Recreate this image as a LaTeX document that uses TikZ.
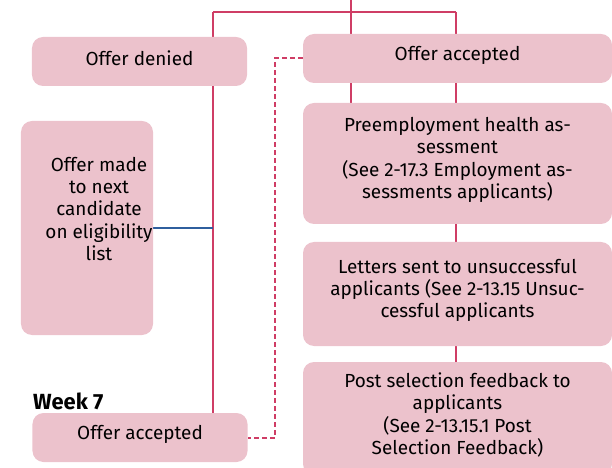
\documentclass[tikz,border=0pt]{standalone}
\usepackage{fontspec}
\setmainfont{Fira Sans}
\usetikzlibrary{backgrounds}
\definecolor{boxpink}{HTML}{ECC2CC}
\definecolor{linered}{HTML}{CF3D65}
\definecolor{lineblue}{HTML}{2F5F9E}
\begin{document}
\begin{tikzpicture}[x=1bp,y=-1bp,
  card/.style={fill=boxpink, rounded corners=11bp, inner sep=0pt},
  cardtext/.style={inner sep=0pt, align=center, yshift=3.5bp,
    font=\fontsize{19}{22.5}\selectfont},
  link/.style={draw=linered, line width=1.2bp},
  sidelink/.style={draw=lineblue, line width=1.2bp},
  dashlink/.style={draw=linered, line width=1.5bp, dash pattern=on 5bp off 3bp}]
\useasboundingbox (0,0) rectangle (612,468);

% process boxes
\node[card, minimum width=215bp, minimum height=49bp] (denied) at (139.5,61.5) {};
\node[card, minimum width=309bp, minimum height=49bp] (acctop) at (457.5,58.5) {};
\node[card, minimum width=132bp, minimum height=214bp] (made) at (87,228) {};
\node[card, minimum width=309bp, minimum height=121bp] (pre) at (457.5,163.5) {};
\node[card, minimum width=309bp, minimum height=104bp] (let) at (457.5,294) {};
\node[card, minimum width=309bp, minimum height=113bp] (post) at (457.5,418.5) {};
\node[card, minimum width=215bp, minimum height=49bp] (acc7) at (140,437.5) {};

% box texts
\node[cardtext] (deniedtext) at (denied) {Offer denied};
\node[cardtext] (acctoptext) at (acctop) {Offer accepted};
\node[cardtext, yshift=-3.5bp] (madetext) at (99,209)
  {Offer made\\to next\\candidate\\on eligibility\\list};
\node[cardtext] (pretext) at (pre)
  {Preemployment health as-\\sessment\\(See 2-17.3 Employment as-\\sessments applicants)};
\node[cardtext] (lettext) at (let)
  {Letters sent to unsuccessful\\applicants (See 2-13.15 Unsuc-\\cessful applicants};
\node[cardtext] (posttext) at (post)
  {Post selection feedback to\\applicants\\(See 2-13.15.1 Post\\Selection Feedback)};
\node[cardtext] (acc7text) at (acc7) {Offer accepted};
\node[anchor=base west, inner sep=0pt, font=\bfseries\fontsize{22}{26}\selectfont] (week) at (33,409) {Week 7};

% connectors, drawn behind the boxes
\coordinate (top) at (351,0);
\coordinate (barl) at (213,12);
\coordinate (barr) at (456,12);
\coordinate (trunk) at (213,228);
\coordinate (bendtop) at (275,58);
\coordinate (bendbot) at (275,438);
\begin{scope}[on background layer]
  \draw[link] (top) -- (pre.north -| top);
  \draw[link] (barl) -- (barr);
  \draw[link] (barl) -- (acc7.north -| barl);
  \draw[link] (barr) -- (post.north -| barr);
  \draw[sidelink] (made.east |- trunk) -- (trunk);
  \draw[dashlink] (acctop.west |- bendtop) -- (bendtop) -- (bendbot) -- (acc7.east |- bendbot);
\end{scope}
\end{tikzpicture}
\end{document}
